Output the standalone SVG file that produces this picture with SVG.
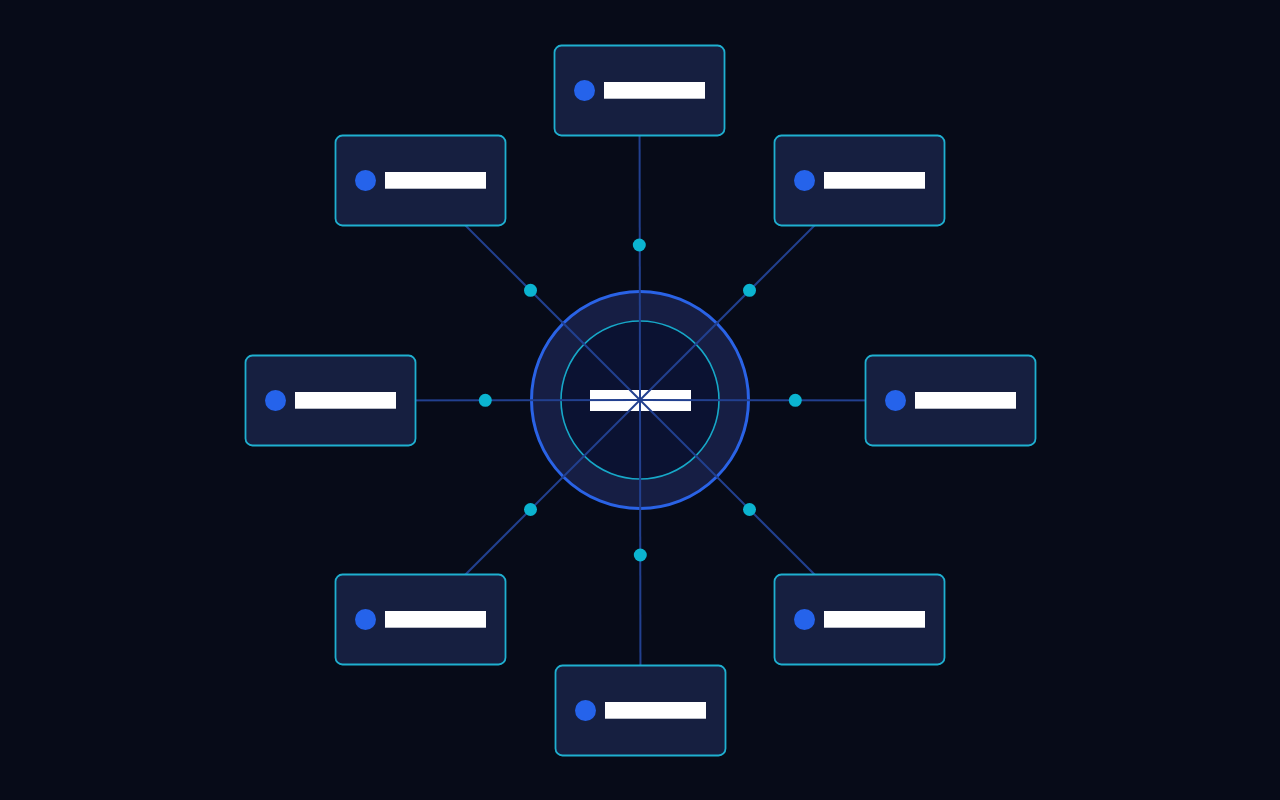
<svg xmlns="http://www.w3.org/2000/svg" width="1280" height="800" viewBox="0 0 1280 800">
  <defs>
    <style>
      .node-box { fill: #161f40; stroke: #1fb0d0; stroke-width: 1.8; }
      .node-dot { fill: #2563eb; }
      .bar { fill: #ffffff; }
      .link { stroke: #22408f; stroke-width: 2; fill: none; }
      .mid { fill: #0bb4d0; }
    </style>
  </defs>
  <rect x="0" y="0" width="1280" height="800" fill="#070b18"/>

  <g id="hub">
    <circle cx="640" cy="400" r="108.5" fill="#161e44" stroke="#2a63e6" stroke-width="3"/>
    <circle cx="640" cy="400" r="79" fill="#0b1232" stroke="#17a8c8" stroke-width="1.6"/>
    <rect class="bar" x="590" y="390" width="101" height="21"/>
  </g>

  <g id="connectors">
    <line class="link" x1="640" y1="400" x2="639.5" y2="90.5"/>
    <line class="link" x1="640" y1="400" x2="859.5" y2="180.5"/>
    <line class="link" x1="640" y1="400" x2="950.5" y2="400.5"/>
    <line class="link" x1="640" y1="400" x2="859.5" y2="619.5"/>
    <line class="link" x1="640" y1="400" x2="640.5" y2="710.5"/>
    <line class="link" x1="640" y1="400" x2="420.5" y2="619.5"/>
    <line class="link" x1="640" y1="400" x2="330.5" y2="400.5"/>
    <line class="link" x1="640" y1="400" x2="420.5" y2="180.5"/>
    <circle class="mid" cx="639.3" cy="245" r="6.5"/>
    <circle class="mid" cx="749.5" cy="290.3" r="6.5"/>
    <circle class="mid" cx="795.3" cy="400.3" r="6.5"/>
    <circle class="mid" cx="749.5" cy="509.5" r="6.5"/>
    <circle class="mid" cx="640.3" cy="555" r="6.5"/>
    <circle class="mid" cx="530.5" cy="509.5" r="6.5"/>
    <circle class="mid" cx="485.3" cy="400.3" r="6.5"/>
    <circle class="mid" cx="530.5" cy="290.3" r="6.5"/>
  </g>

  <g id="node-top">
    <rect class="node-box" x="554.5" y="45.5" width="170" height="90" rx="7"/>
    <circle class="node-dot" cx="584.5" cy="90.5" r="10.5"/>
    <rect class="bar" x="604" y="82" width="101" height="16.7"/>
  </g>
  <g id="node-top-right">
    <rect class="node-box" x="774.5" y="135.5" width="170" height="90" rx="7"/>
    <circle class="node-dot" cx="804.5" cy="180.5" r="10.5"/>
    <rect class="bar" x="824" y="172" width="101" height="16.7"/>
  </g>
  <g id="node-right">
    <rect class="node-box" x="865.5" y="355.5" width="170" height="90" rx="7"/>
    <circle class="node-dot" cx="895.5" cy="400.5" r="10.5"/>
    <rect class="bar" x="915" y="392" width="101" height="16.7"/>
  </g>
  <g id="node-bottom-right">
    <rect class="node-box" x="774.5" y="574.5" width="170" height="90" rx="7"/>
    <circle class="node-dot" cx="804.5" cy="619.5" r="10.5"/>
    <rect class="bar" x="824" y="611" width="101" height="16.7"/>
  </g>
  <g id="node-bottom">
    <rect class="node-box" x="555.5" y="665.5" width="170" height="90" rx="7"/>
    <circle class="node-dot" cx="585.5" cy="710.5" r="10.5"/>
    <rect class="bar" x="605" y="702" width="101" height="16.7"/>
  </g>
  <g id="node-bottom-left">
    <rect class="node-box" x="335.5" y="574.5" width="170" height="90" rx="7"/>
    <circle class="node-dot" cx="365.5" cy="619.5" r="10.5"/>
    <rect class="bar" x="385" y="611" width="101" height="16.7"/>
  </g>
  <g id="node-left">
    <rect class="node-box" x="245.5" y="355.5" width="170" height="90" rx="7"/>
    <circle class="node-dot" cx="275.5" cy="400.5" r="10.5"/>
    <rect class="bar" x="295" y="392" width="101" height="16.7"/>
  </g>
  <g id="node-top-left">
    <rect class="node-box" x="335.5" y="135.5" width="170" height="90" rx="7"/>
    <circle class="node-dot" cx="365.5" cy="180.5" r="10.5"/>
    <rect class="bar" x="385" y="172" width="101" height="16.7"/>
  </g>
</svg>
